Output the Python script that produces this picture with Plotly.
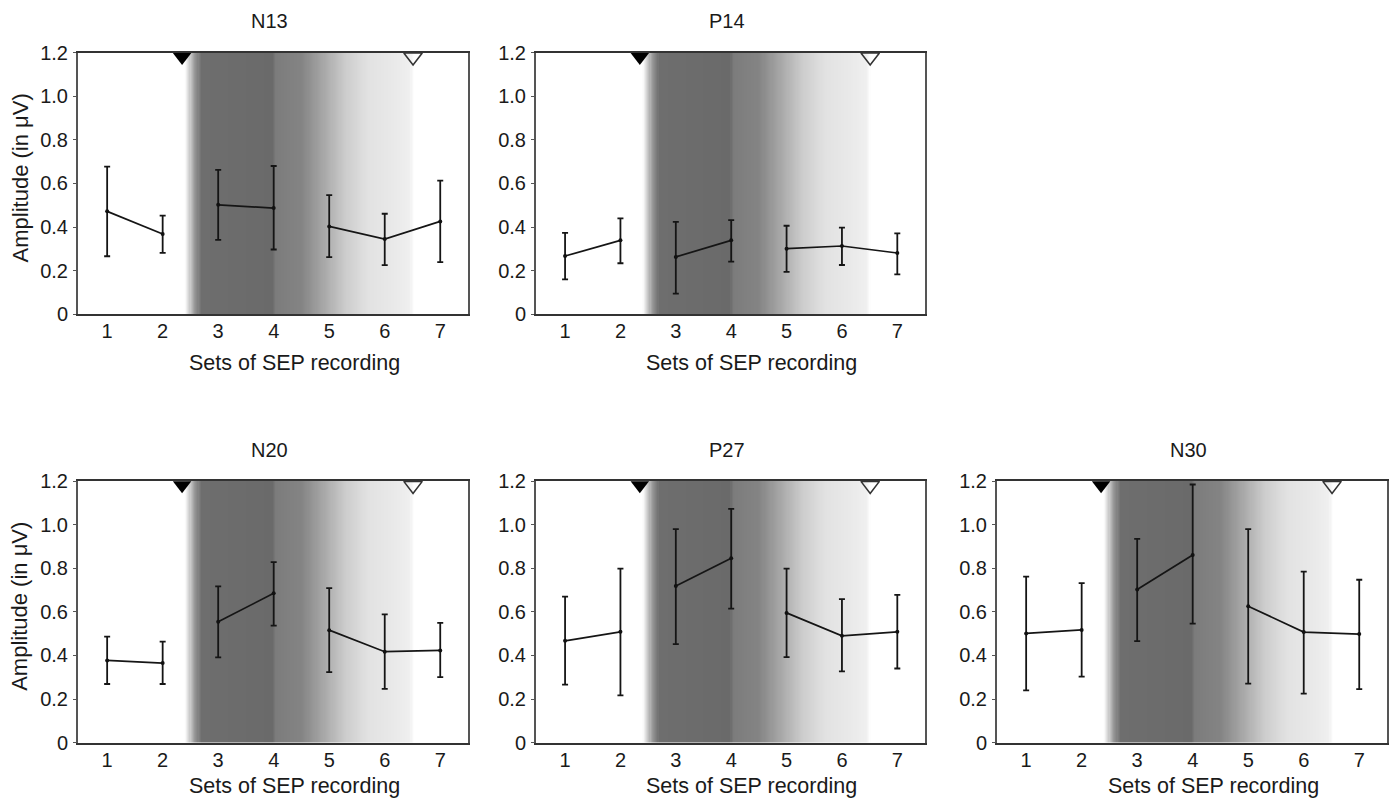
import plotly.graph_objects as go

# ---------------- data ----------------
sets = [1, 2, 3, 4, 5, 6, 7]
panel_names = ["N13", "P14", "N20", "P27", "N30"]

n13_mean = [0.472, 0.368, 0.502, 0.487, 0.403, 0.345, 0.426]
n13_upper = [0.677, 0.452, 0.662, 0.680, 0.546, 0.461, 0.613]
n13_lower = [0.266, 0.282, 0.341, 0.297, 0.262, 0.225, 0.239]

p14_mean = [0.267, 0.339, 0.263, 0.339, 0.301, 0.313, 0.281]
p14_upper = [0.373, 0.440, 0.424, 0.432, 0.406, 0.397, 0.371]
p14_lower = [0.160, 0.234, 0.095, 0.241, 0.194, 0.226, 0.183]

n20_mean = [0.377, 0.365, 0.554, 0.685, 0.516, 0.417, 0.423]
n20_upper = [0.486, 0.463, 0.717, 0.828, 0.709, 0.588, 0.549]
n20_lower = [0.269, 0.269, 0.391, 0.537, 0.323, 0.247, 0.300]

p27_mean = [0.467, 0.508, 0.718, 0.846, 0.595, 0.490, 0.508]
p27_upper = [0.670, 0.798, 0.979, 1.072, 0.798, 0.658, 0.678]
p27_lower = [0.266, 0.217, 0.452, 0.615, 0.392, 0.327, 0.340]

n30_mean = [0.501, 0.517, 0.702, 0.861, 0.626, 0.507, 0.498]
n30_upper = [0.761, 0.732, 0.935, 1.184, 0.979, 0.784, 0.747]
n30_lower = [0.240, 0.303, 0.466, 0.546, 0.271, 0.225, 0.245]

means = [n13_mean, p14_mean, n20_mean, p27_mean, n30_mean]
uppers = [n13_upper, p14_upper, n20_upper, p27_upper, n30_upper]
lowers = [n13_lower, p14_lower, n20_lower, p27_lower, n30_lower]

# connected groups of recording sets (indices)
segments = [[0, 1], [2, 3], [4, 5, 6]]

ytick_vals = [0, 0.2, 0.4, 0.6, 0.8, 1.0, 1.2]
ytick_text = ["0", "0.2", "0.4", "0.6", "0.8", "1.0", "1.2"]

stim_on = 2.35   # filled triangle
stim_off = 6.51  # open triangle

# ---------------- style / layout ----------------
W, H = 1397, 802
FONT = "Liberation Sans, Arial, sans-serif"
TXT = "#1a1a1a"


def vy(y):
    # vertical pixel placement (compensates the capture's vertical scaling)
    return (y - 9.3) / 0.974


# panel pixel boxes: (left, right, top, bottom)
boxes = [
    (78, 468, 51, 313),
    (536, 925, 51, 313),
    (78, 468, 480, 742),
    (536, 925, 480, 742),
    (997, 1387, 480, 742),
]
title_y = [19, 19, 449, 449, 449]
xtitle_y = [362, 362, 789, 789, 789]
XR = [0.475, 7.5]
YR = [0, 1.2]

# gradient stops (x position, gray level)
grad_stops = [
    (2.40, 255), (2.48, 210), (2.58, 150), (2.70, 110), (3.98, 106),
    (4.04, 124), (4.50, 132), (4.90, 168), (5.30, 205), (5.70, 226),
    (6.20, 234), (6.45, 240), (6.52, 255),
]


def gray_at(x):
    for (x0, g0), (x1, g1) in zip(grad_stops[:-1], grad_stops[1:]):
        if x0 <= x <= x1:
            t = (x - x0) / (x1 - x0)
            return g0 + t * (g1 - g0)
    return 255


fig = go.Figure()
layout = dict(
    width=W, height=H,
    margin=dict(l=0, r=0, t=0, b=0),
    paper_bgcolor="white", plot_bgcolor="white",
    showlegend=False,
    font=dict(family=FONT, size=18, color=TXT),
)
annotations = []

n = 200
x0g, x1g = grad_stops[0][0], grad_stops[-1][0]
step = (x1g - x0g) / n
grad_edges = [x0g + j * step for j in range(n + 1)]
grad_vals = [gray_at(x0g + (j + 0.5) * step) for j in range(n)]

for i, name in enumerate(panel_names):
    k = "" if i == 0 else str(i + 1)
    xa, ya = "x" + k, "y" + k
    l, r, t, b = boxes[i]
    tt, bb = vy(t), vy(b)
    layout["xaxis" + k] = dict(
        domain=[l / W, r / W], range=XR, anchor=ya,
        tickvals=sets, ticktext=[str(s) for s in sets],
        ticks="", showline=True, linecolor="#333", linewidth=2, mirror=True,
        showgrid=False, zeroline=False, fixedrange=True,
        tickfont=dict(family=FONT, size=20, color=TXT),
        ticklabelstandoff=-2,
    )
    layout["yaxis" + k] = dict(
        domain=[1 - bb / H, 1 - tt / H], range=YR, anchor=xa,
        tickvals=ytick_vals, ticktext=ytick_text,
        ticks="outside", ticklen=3, tickcolor="#555", tickwidth=1,
        showline=True, linecolor="#555", linewidth=2, mirror=True,
        showgrid=False, zeroline=False, fixedrange=True,
        tickfont=dict(family=FONT, size=20, color=TXT),
        ticklabelstandoff=1,
    )

    # gradient background
    fig.add_trace(go.Heatmap(
        x=grad_edges, y=[0, 1.2], z=[grad_vals], xaxis=xa, yaxis=ya,
        colorscale=[[0, "rgb(0,0,0)"], [1, "rgb(255,255,255)"]],
        zmin=0, zmax=255, showscale=False, hoverinfo="skip",
    ))

    m, up, lo = means[i], uppers[i], lowers[i]
    for seg in segments:
        fig.add_trace(go.Scatter(
            x=[sets[s] for s in seg], y=[m[s] for s in seg],
            xaxis=xa, yaxis=ya, mode="lines",
            line=dict(color="#151515", width=1.7), hoverinfo="skip",
        ))
    fig.add_trace(go.Scatter(
        x=sets, y=m, xaxis=xa, yaxis=ya, mode="markers",
        marker=dict(color="#111", size=4),
        error_y=dict(
            type="data", symmetric=False,
            array=[u - v for u, v in zip(up, m)],
            arrayminus=[v - w for v, w in zip(m, lo)],
            color="#151515", thickness=1.8, width=3,
        ),
        hoverinfo="skip",
    ))
    # stimulation markers
    fig.add_trace(go.Scatter(
        x=[stim_on], y=[1.18], xaxis=xa, yaxis=ya, mode="markers",
        marker=dict(symbol="triangle-down", size=16, color="#000"),
        cliponaxis=False, hoverinfo="skip",
    ))
    fig.add_trace(go.Scatter(
        x=[stim_off], y=[1.18], xaxis=xa, yaxis=ya, mode="markers",
        marker=dict(symbol="triangle-down-open", size=16, color="#333",
                    line=dict(width=1.6, color="#333")),
        cliponaxis=False, hoverinfo="skip",
    ))

    # titles
    cx = (l + r) / 2
    annotations.append(dict(
        text=name, x=(cx - 4) / W, y=1 - vy(title_y[i]) / H,
        xref="paper", yref="paper",
        showarrow=False, font=dict(family=FONT, size=20, color=TXT),
        xanchor="center", yanchor="middle",
    ))
    annotations.append(dict(
        text="Sets of SEP recording", x=(cx + 21) / W,
        y=1 - min(vy(xtitle_y[i]), 797) / H,
        xref="paper", yref="paper", showarrow=False,
        font=dict(family=FONT, size=21.5, color=TXT),
        xanchor="center", yanchor="middle",
    ))
    if l < 100:
        annotations.append(dict(
            text="Amplitude (in μV)", x=20 / W, y=1 - vy((t + b) / 2 - 5) / H,
            xref="paper", yref="paper", showarrow=False, textangle=-90,
            font=dict(family=FONT, size=22, color=TXT),
            xanchor="center", yanchor="middle",
        ))

layout["annotations"] = annotations
fig.update_layout(**layout)
fig.write_html(
    "out.html",
    config={"displayModeBar": False},
    post_script="document.body.style.margin='0';document.body.style.overflow='hidden';",
)
